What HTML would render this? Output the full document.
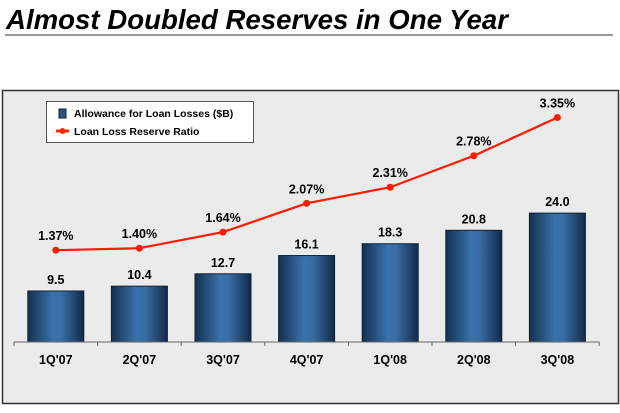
<!DOCTYPE html>
<html><head><meta charset="utf-8"><style>
body{margin:0;width:620px;height:408px;background:#fff;overflow:hidden;font-family:"Liberation Sans",Arial,sans-serif}
svg text{font-family:"Liberation Sans",Arial,sans-serif}
</style></head><body>
<svg width="620" height="408">
<defs>
<linearGradient id="bg" x1="0" x2="1" y1="0" y2="0">
<stop offset="0" stop-color="#13304f"/><stop offset="0.45" stop-color="#3a72ad"/><stop offset="0.6" stop-color="#3a6ea6"/><stop offset="1" stop-color="#12294a"/>
</linearGradient>
</defs>
<text x="6" y="29" font-size="28" font-weight="bold" font-style="italic" fill="#000" textLength="502" lengthAdjust="spacingAndGlyphs">Almost Doubled Reserves in One Year</text>
<rect x="5" y="34" width="608" height="2" fill="#999"/>
<rect x="2.5" y="90.5" width="616" height="313" fill="#ebebeb" stroke="#333" stroke-width="1.5"/>
<g id="bars"></g>
<g id="axis"></g>
<g id="line"></g>
<g>
<rect x="46.5" y="101.5" width="207" height="41" fill="#fff" stroke="#555"/>
<rect x="59" y="109" width="7" height="9" fill="#2a5580" stroke="#0d2236"/>
<text x="74" y="117" font-size="10.5" font-weight="bold">Allowance for Loan Losses ($B)</text>
<line x1="56" y1="131" x2="69" y2="131" stroke="#ff2a00" stroke-width="3"/>
<circle cx="62.5" cy="131" r="3" fill="#ff2a00"/>
<text x="74" y="135" font-size="10.5" font-weight="bold">Loan Loss Reserve Ratio</text>
</g>
</svg>
<script>
const categories=["1Q'07","2Q'07","3Q'07","4Q'07","1Q'08","2Q'08","3Q'08"];
const allowance=[9.5,10.4,12.7,16.1,18.3,20.8,24.0];
const allowanceLabels=["9.5","10.4","12.7","16.1","18.3","20.8","24.0"];
const ratio=[1.37,1.40,1.64,2.07,2.31,2.78,3.35];
const ratioLabels=["1.37%","1.40%","1.64%","2.07%","2.31%","2.78%","3.35%"];
const NS="http://www.w3.org/2000/svg";
const x0=14,step=83.6,base=342;
const xc=i=>x0+step/2+step*i;
const yb=v=>base-v*5.37;
const yr=v=>base-v*67;
function mk(t,a,p){const e=document.createElementNS(NS,t);for(const k in a)e.setAttribute(k,a[k]);p.appendChild(e);return e;}
const gb=document.getElementById('bars'),ga=document.getElementById('axis'),gl=document.getElementById('line');
categories.forEach((c,i)=>{
 const r=mk('rect',{x:xc(i)-28,y:yb(allowance[i]),width:56,height:base-yb(allowance[i]),fill:'url(#bg)',stroke:'#0d2236','stroke-width':1},gb);
 
 
 const t=mk('text',{x:xc(i),y:yb(allowance[i])-7,'text-anchor':'middle','font-size':12.5,'font-weight':'bold'},gb);
 t.textContent=allowanceLabels[i];
 
 
 const l=mk('text',{x:xc(i),y:364,'text-anchor':'middle','font-size':12.5,'font-weight':'bold'},ga);
 l.textContent=c;
 
 
});
const ax=mk('line',{x1:x0,y1:base,x2:x0+step*7,y2:base,stroke:'#666','stroke-width':1},ga);


for(let i=0;i<=7;i++){const tk=mk('line',{x1:x0+step*i,y1:base,x2:x0+step*i,y2:base+4,stroke:'#666'},ga);
 
 }
const pl=mk('polyline',{points:ratio.map((v,i)=>xc(i)+','+yr(v)).join(' '),fill:'none',stroke:'#ff1a00','stroke-width':2.2},gl);


ratio.forEach((v,i)=>{
 const c=mk('circle',{cx:xc(i),cy:yr(v),r:3.5,fill:'#ff1a00'},gl);
 
 
 const t=mk('text',{x:xc(i),y:yr(v)-10,'text-anchor':'middle','font-size':12.5,'font-weight':'bold'},gl);
 t.textContent=ratioLabels[i];
 
 
});
</script>
</body></html>
